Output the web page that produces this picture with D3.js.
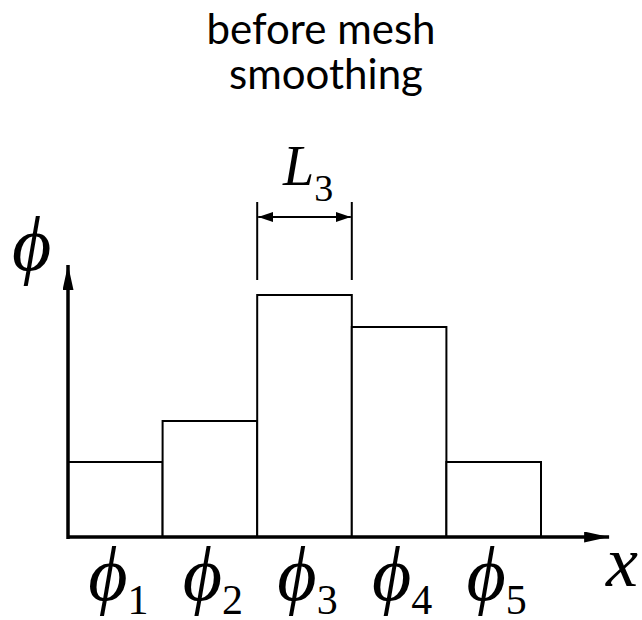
<!DOCTYPE html>
<html>
<head>
<meta charset="utf-8">
<script src="https://cdn.jsdelivr.net/npm/d3@7"></script>
<style>
  html, body { margin: 0; padding: 0; background: #fff; }
  svg { display: block; }
</style>
</head>
<body>
<svg id="chart" width="642" height="620"></svg>
<script>
// Cell averages of the field before smoothing
const cells = ["1", "2", "3", "4", "5"];
const phiValues = [0.75, 1.16, 2.42, 2.10, 0.75];
const titleLines = ["before mesh", "smoothing"];
const axisLimit = 2.72;      // where the phi axis arrow ends
const xAxisEnd = 5.72;       // where the x axis arrow ends, in cell widths
const spanCell = "3";        // cell whose width is dimensioned

const PHI = "\u03D5";        // stroked phi

const svg = d3.select("#chart");
const left = 68, baseY = 537, cellW = 94.6;

const x = d3.scaleBand().domain(cells).range([left, left + cellW * cells.length]).padding(0);
const xLin = d3.scaleLinear().domain([0, cells.length]).range([left, left + cellW * cells.length]);
const y = d3.scaleLinear().domain([0, axisLimit]).range([baseY, 265]);

const serif = "'Liberation Serif', 'DejaVu Serif', 'Times New Roman', serif";

// Title
svg.append("g").selectAll("text").data(titleLines).join("text")
  .attr("x", (d, i) => i === 0 ? 321 : 326)
  .attr("y", (d, i) => 44 + i * 45)
  .attr("text-anchor", "middle")
  .attr("font-family", "Lato, 'Open Sans', sans-serif")
  .attr("font-size", 42)
  .attr("fill", "#000")
  .text(d => d);

// Bars
svg.append("g").selectAll("rect").data(phiValues).join("rect")
  .attr("x", (d, i) => x(cells[i]))
  .attr("y", d => y(d))
  .attr("width", x.bandwidth())
  .attr("height", d => baseY - y(d))
  .attr("fill", "#fff")
  .attr("stroke", "#000")
  .attr("stroke-width", 2);

// Arrow heads
const defs = svg.append("defs");
defs.append("marker")
  .attr("id", "axisHead")
  .attr("viewBox", "0 0 25 11")
  .attr("refX", 25).attr("refY", 5.5)
  .attr("markerWidth", 25).attr("markerHeight", 11)
  .attr("markerUnits", "userSpaceOnUse")
  .attr("orient", "auto")
  .append("path").attr("d", "M0,0 L25,5.5 L0,11 Z").attr("fill", "#000");
defs.append("marker")
  .attr("id", "dimHead")
  .attr("viewBox", "0 0 15 10")
  .attr("refX", 15).attr("refY", 5)
  .attr("markerWidth", 15).attr("markerHeight", 10)
  .attr("markerUnits", "userSpaceOnUse")
  .attr("orient", "auto-start-reverse")
  .append("path").attr("d", "M0,0 L15,5 L0,10 Z").attr("fill", "#000");

// Axes
svg.append("line")
  .attr("x1", left).attr("y1", baseY + 2)
  .attr("x2", left).attr("y2", y(axisLimit))
  .attr("stroke", "#000").attr("stroke-width", 3.5)
  .attr("marker-end", "url(#axisHead)");
svg.append("line")
  .attr("x1", left).attr("y1", baseY)
  .attr("x2", xLin(xAxisEnd)).attr("y2", baseY)
  .attr("stroke", "#000").attr("stroke-width", 3.5)
  .attr("marker-end", "url(#axisHead)");

// Axis names
svg.append("text")
  .attr("x", 12).attr("y", 270)
  .attr("font-family", serif).attr("font-style", "italic")
  .attr("font-size", 76).text(PHI);
svg.append("text")
  .attr("x", 606).attr("y", 586)
  .attr("font-family", serif).attr("font-style", "italic")
  .attr("font-size", 72).text("x");

// Cell labels phi_i
const lab = svg.append("g").selectAll("text").data(cells).join("text")
  .attr("x", d => x(d) + x.bandwidth() / 2 + 3)
  .attr("y", 600)
  .attr("text-anchor", "middle")
  .attr("font-family", serif);
lab.append("tspan").attr("font-style", "italic").attr("font-size", 76).text(PHI);
lab.append("tspan").attr("font-size", 42).attr("dy", 14).text(d => d);

// Width dimension of one cell
const x0 = x(spanCell), x1 = x(spanCell) + x.bandwidth();
svg.append("g").selectAll("line").data([x0, x1]).join("line")
  .attr("x1", d => d).attr("x2", d => d)
  .attr("y1", 202).attr("y2", 280)
  .attr("stroke", "#000").attr("stroke-width", 2);
svg.append("line")
  .attr("x1", x0 + 1).attr("x2", x1 - 1)
  .attr("y1", 217).attr("y2", 217)
  .attr("stroke", "#000").attr("stroke-width", 2)
  .attr("marker-start", "url(#dimHead)")
  .attr("marker-end", "url(#dimHead)");
const dimLabel = svg.append("text")
  .attr("x", 283).attr("y", 185)
  .attr("font-family", serif);
dimLabel.append("tspan").attr("font-style", "italic").attr("font-size", 56).text("L");
dimLabel.append("tspan").attr("font-size", 38).attr("dy", 16).text(spanCell);
</script>
</body>
</html>
